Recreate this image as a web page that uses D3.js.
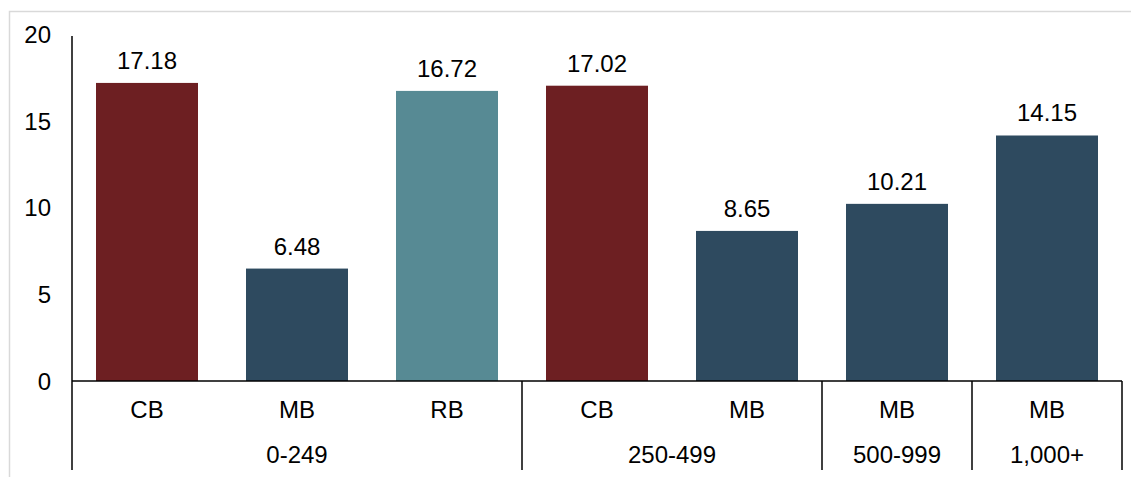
<!DOCTYPE html>
<html>
<head>
<meta charset="utf-8">
<script src="https://cdn.jsdelivr.net/npm/d3@7"></script>
<style>
  html, body { margin: 0; padding: 0; background: #fff; }
  svg { display: block; }
  text { font-family: "Liberation Sans", Arial, sans-serif; fill: #000; }
</style>
</head>
<body>
<svg id="chart" width="1131" height="477"></svg>
<script>
// Bar chart data: one bar per (size band, bank type)
const bankTypes = ["CB", "MB", "RB", "CB", "MB", "MB", "MB"];
const sizeBands = ["0-249", "0-249", "0-249", "250-499", "250-499", "500-999", "1,000+"];
const values = [17.18, 6.48, 16.72, 17.02, 8.65, 10.21, 14.15];
const yTicks = [0, 5, 10, 15, 20];
const typeColors = { CB: "#6D1F22", MB: "#2E4A5F", RB: "#578A94" };

const svg = d3.select("#chart");

// Outer frame
svg.append("rect")
  .attr("x", 9.5).attr("y", 11.5)
  .attr("width", 1200).attr("height", 600)
  .attr("fill", "none").attr("stroke", "#d9d9d9").attr("stroke-width", 1.5);

const left = 72, right = 1122, baseY = 381, topY = 34, bottomY = 470;

const ids = values.map((_, i) => i);
const x = d3.scaleBand().domain(ids).range([left, right]).paddingInner(0.32).paddingOuter(0.16);
const y = d3.scaleLinear().domain([0, 20]).range([baseY, topY]);

// Bars
svg.append("g").selectAll("rect").data(ids).join("rect")
  .attr("x", i => x(i))
  .attr("y", i => y(values[i]))
  .attr("width", x.bandwidth())
  .attr("height", i => y(0) - y(values[i]))
  .attr("fill", i => typeColors[bankTypes[i]]);

// Value labels
svg.append("g").selectAll("text").data(ids).join("text")
  .attr("x", i => x(i) + x.bandwidth() / 2)
  .attr("y", i => y(values[i]) - 14)
  .attr("text-anchor", "middle")
  .style("font-size", "24px")
  .text(i => values[i].toFixed(2));

// Y axis: labels only, plus its spine
const yAxis = d3.axisLeft(y).tickValues(yTicks).tickSize(0).tickPadding(0).tickFormat(d3.format("d"));
const gy = svg.append("g").attr("transform", `translate(${left - 21},0)`).call(yAxis);
gy.select(".domain").remove();
gy.selectAll("text").style("font-size", "24px").attr("dy", "0.35em").attr("fill", "#000");

svg.append("line")
  .attr("x1", left).attr("x2", left).attr("y1", 36).attr("y2", bottomY)
  .attr("stroke", "#000").attr("stroke-width", 1.5);

// Baseline
svg.append("line")
  .attr("x1", left).attr("x2", right).attr("y1", baseY).attr("y2", baseY)
  .attr("stroke", "#000").attr("stroke-width", 1.5);

// Bank-type labels
const step = x.step();
svg.append("g").selectAll("text").data(ids).join("text")
  .attr("x", i => x(i) + x.bandwidth() / 2)
  .attr("y", 410)
  .attr("dy", "0.35em")
  .attr("text-anchor", "middle")
  .style("font-size", "24px")
  .text(i => bankTypes[i]);

// Size-band groups and their dividers
const groups = [];
sizeBands.forEach((b, i) => {
  const last = groups[groups.length - 1];
  if (last && last.band === b) last.end = i; else groups.push({ band: b, start: i, end: i });
});
const slotEdge = i => left + i * step;

svg.append("g").selectAll("text").data(groups).join("text")
  .attr("x", g => (slotEdge(g.start) + slotEdge(g.end + 1)) / 2)
  .attr("y", 455)
  .attr("dy", "0.35em")
  .attr("text-anchor", "middle")
  .style("font-size", "24px")
  .text(g => g.band);

svg.append("g").selectAll("line").data(groups).join("line")
  .attr("x1", g => slotEdge(g.end + 1)).attr("x2", g => slotEdge(g.end + 1))
  .attr("y1", baseY).attr("y2", bottomY)
  .attr("stroke", "#000").attr("stroke-width", 1.5);
</script>
</body>
</html>
